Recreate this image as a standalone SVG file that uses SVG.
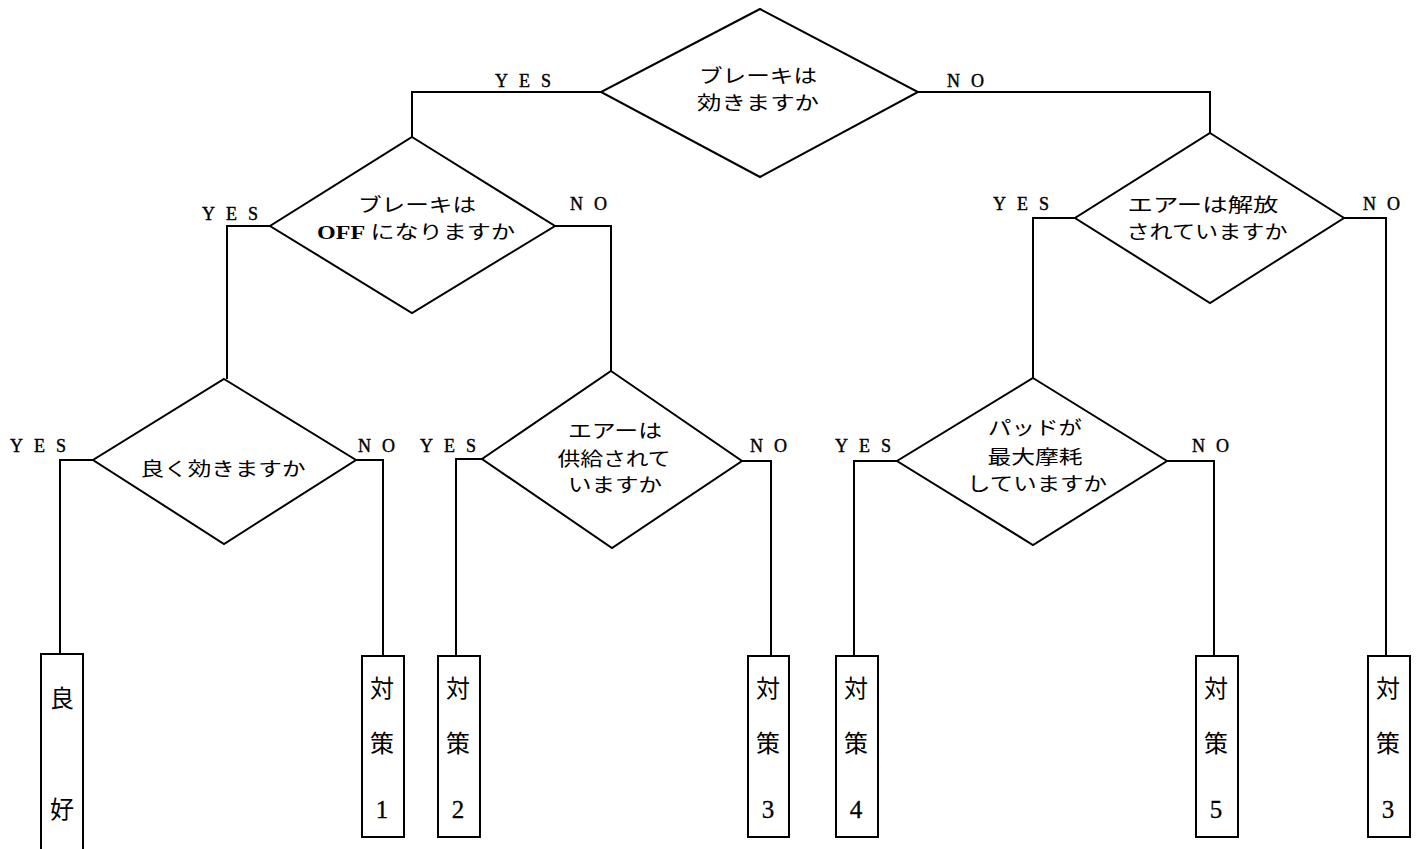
<svg xmlns="http://www.w3.org/2000/svg" width="1419" height="849" viewBox="0 0 1419 849">
<style>
.s{fill:none;stroke:#000;stroke-width:2}
.d{fill:#fff;stroke:#000;stroke-width:2}
.b{fill:#fff;stroke:#000;stroke-width:2}
.q{font-family:"Noto Sans CJK JP","Noto Sans CJK SC",sans-serif;font-size:19px;fill:#000;text-anchor:middle}
.yn{font-family:"Liberation Serif",serif;font-size:18px;fill:#000;stroke:#000;stroke-width:0.4;letter-spacing:11px}
.k{font-family:"Noto Sans CJK JP",sans-serif;font-size:24px;fill:#000;text-anchor:middle}
.n{font-family:"Liberation Serif",serif;font-size:25px;fill:#000;stroke:#000;stroke-width:0.3;text-anchor:middle}
.o{font-family:"Liberation Serif",serif;font-weight:bold}
</style>
<rect width="1419" height="849" fill="#fff"/>
<g id="connectors">
<polyline class="s" points="601,92 412,92 412,137"/>
<polyline class="s" points="918,92 1210,92 1210,133"/>
<polyline class="s" points="270,226 227,226 227,379"/>
<polyline class="s" points="555,226 611,226 611,371"/>
<polyline class="s" points="1075,218 1033,218 1033,378"/>
<polyline class="s" points="1344,218 1386,218 1386,656"/>
<polyline class="s" points="93,460 60,460 60,654"/>
<polyline class="s" points="356,460 383,460 383,656"/>
<polyline class="s" points="482,459 456,459 456,656"/>
<polyline class="s" points="742,461 771,461 771,656"/>
<polyline class="s" points="897,461 854,461 854,656"/>
<polyline class="s" points="1167,461 1214,461 1214,656"/>
<text class="yn" x="495" y="87">YES</text>
<text class="yn" x="947" y="87">NO</text>
<text class="yn" x="202" y="220">YES</text>
<text class="yn" x="570" y="210">NO</text>
<text class="yn" x="993" y="210">YES</text>
<text class="yn" x="1363" y="210">NO</text>
<text class="yn" x="10" y="452">YES</text>
<text class="yn" x="358" y="452">NO</text>
<text class="yn" x="420" y="452">YES</text>
<text class="yn" x="750" y="452">NO</text>
<text class="yn" x="835" y="452">YES</text>
<text class="yn" x="1192" y="452">NO</text>
</g>
<g id="q1">
<polygon class="d" points="760,9 918,92 760,177 601,92"/>
<text class="q" x="758" y="83" textLength="118" lengthAdjust="spacingAndGlyphs">ブレーキは</text>
<text class="q" x="758" y="110" textLength="122" lengthAdjust="spacingAndGlyphs">効きますか</text>
</g>
<g id="q2">
<polygon class="d" points="412,137 555,226 412,313 270,226"/>
<text class="q" x="417" y="212" textLength="118" lengthAdjust="spacingAndGlyphs">ブレーキは</text>
<text class="q" x="416" y="239" textLength="198" lengthAdjust="spacingAndGlyphs"><tspan class="o">OFF</tspan> になりますか</text>
</g>
<g id="q3">
<polygon class="d" points="1210,133 1344,218 1210,303 1075,218"/>
<text class="q" x="1203" y="212" textLength="151" lengthAdjust="spacingAndGlyphs">エアーは解放</text>
<text class="q" x="1207" y="239" textLength="161" lengthAdjust="spacingAndGlyphs">されていますか</text>
</g>
<g id="q4">
<polygon class="d" points="224,379 356,460 224,544 93,460"/>
<text class="q" x="223" y="476" textLength="165" lengthAdjust="spacingAndGlyphs">良く効きますか</text>
</g>
<g id="q5">
<polygon class="d" points="611,371 742,461 612,548 482,459"/>
<text class="q" x="615" y="438" textLength="94" lengthAdjust="spacingAndGlyphs">エアーは</text>
<text class="q" x="614" y="466" textLength="113" lengthAdjust="spacingAndGlyphs">供給されて</text>
<text class="q" x="615" y="492" textLength="94" lengthAdjust="spacingAndGlyphs">いますか</text>
</g>
<g id="q6">
<polygon class="d" points="1033,378 1167,461 1033,545 897,461"/>
<text class="q" x="1035" y="435" textLength="94" lengthAdjust="spacingAndGlyphs">パッドが</text>
<text class="q" x="1035" y="464" textLength="95" lengthAdjust="spacingAndGlyphs">最大摩耗</text>
<text class="q" x="1037" y="491" textLength="140" lengthAdjust="spacingAndGlyphs">していますか</text>
</g>
<g id="r0">
<rect class="b" x="41" y="654" width="42" height="210"/>
<text class="k" x="62" y="707">良</text>
<text class="k" x="62" y="818">好</text>
</g>
<g id="r1">
<rect class="b" x="362" y="656" width="42" height="181"/>
<text class="k" x="382" y="697">対</text>
<text class="k" x="382" y="752">策</text>
<text class="n" x="382" y="818">1</text>
</g>
<g id="r2">
<rect class="b" x="438" y="656" width="42" height="181"/>
<text class="k" x="458" y="697">対</text>
<text class="k" x="458" y="752">策</text>
<text class="n" x="458" y="818">2</text>
</g>
<g id="r3">
<rect class="b" x="748" y="656" width="41" height="181"/>
<text class="k" x="768" y="697">対</text>
<text class="k" x="768" y="752">策</text>
<text class="n" x="768" y="818">3</text>
</g>
<g id="r4">
<rect class="b" x="836" y="656" width="42" height="181"/>
<text class="k" x="856" y="697">対</text>
<text class="k" x="856" y="752">策</text>
<text class="n" x="856" y="818">4</text>
</g>
<g id="r5">
<rect class="b" x="1196" y="656" width="42" height="181"/>
<text class="k" x="1216" y="697">対</text>
<text class="k" x="1216" y="752">策</text>
<text class="n" x="1216" y="818">5</text>
</g>
<g id="r6">
<rect class="b" x="1368" y="656" width="42" height="181"/>
<text class="k" x="1388" y="697">対</text>
<text class="k" x="1388" y="752">策</text>
<text class="n" x="1388" y="818">3</text>
</g>
</svg>
